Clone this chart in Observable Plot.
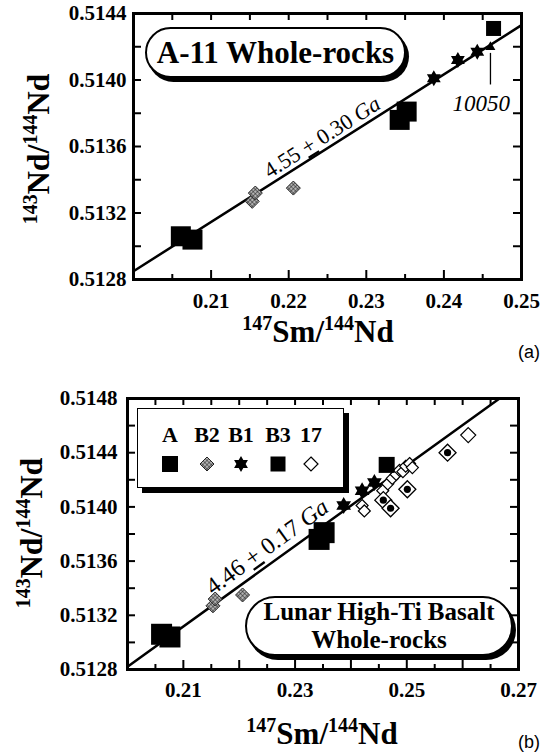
<!DOCTYPE html>
<html><head><meta charset="utf-8">
<script src="https://cdn.jsdelivr.net/npm/d3@7"></script>
<script src="https://cdn.jsdelivr.net/npm/@observablehq/plot@0.6"></script>
<style>
html,body{margin:0;padding:0;background:#fff;overflow:hidden;}
#root{position:relative;width:544px;height:753px;overflow:hidden;font-family:"Liberation Serif","Times New Roman",serif;color:#000;}
.panel{position:absolute;left:0;}
.ytitle{position:absolute;transform:translate(-50%,-50%) rotate(-90deg);white-space:nowrap;font-weight:bold;font-size:32px;line-height:32px;}
.xtitle{position:absolute;transform:translateX(-50%);white-space:nowrap;font-weight:bold;font-size:31px;line-height:31px;}
.sup{font-size:20px;position:relative;top:-12px;}
.tag{position:absolute;font-family:"Liberation Sans",Arial,sans-serif;font-size:18px;line-height:18px;transform:translate(-50%,-50%);}
.pill{position:absolute;box-sizing:border-box;border:2px solid #000;background:#fff;box-shadow:3px 4px 0 #000;font-weight:bold;text-align:center;white-space:nowrap;}
.legend{position:absolute;box-sizing:border-box;border:1.5px solid #000;background:#fff;box-shadow:5px 5px 0 #000;}
.legend .lab{position:absolute;font-weight:bold;font-size:22px;line-height:22px;transform:translateX(-50%);}
.legend svg{position:absolute;overflow:visible;}
</style>
</head><body>
<svg width="0" height="0" style="position:absolute">
 <defs>
  <pattern id="hatch" width="3" height="3" patternUnits="userSpaceOnUse" patternTransform="rotate(45)">
   <rect width="3" height="3" fill="#b4b4b4"/>
   <path d="M0 0H3M0 0V3" stroke="#1a1a1a" stroke-width="1"/>
  </pattern>
 </defs>
</svg>
<div id="root"></div>
<script>
// ---------- data ----------
// Panel (a): A-11 whole-rocks
const xDomainA = [0.20, 0.25];
const yDomainA = [0.5128, 0.5144];
const xLabelsA = [0.21, 0.22, 0.23, 0.24, 0.25];
const xMajorA = [0.21, 0.22, 0.23, 0.24];
const xMinorA = [0.205, 0.215, 0.225, 0.235, 0.245];
const yLabelsA = [0.5128, 0.5132, 0.5136, 0.5140, 0.5144];
const yTicksA = [0.5130, 0.5132, 0.5134, 0.5136, 0.5138, 0.5140, 0.5142];

// groups: [147Sm/144Nd, 143Nd/144Nd]
const groupA = [[0.2061, 0.51306], [0.2076, 0.51304], [0.2343, 0.51376], [0.2352, 0.51381]];
const groupB2 = [[0.2153, 0.51327], [0.2157, 0.51332], [0.2206, 0.51335]];
const groupB1 = [[0.2387, 0.51401], [0.2418, 0.51412], [0.2443, 0.51417]];
const groupB3 = [[0.2464, 0.51431]];
const sample10050 = [[0.2460, 0.51420]];
const pointer10050 = [{x: 0.2460, y1: 0.51416, y2: 0.51397}];
const label10050 = [{x: 0.2448, y: 0.51386, text: "10050"}];
const isochronA = [{x: 0.20, y: 0.51285}, {x: 0.25, y: 0.51433}];
const ageLabelA = [{x: 0.2248, y: 0.51362, text: "4.55 ± 0.30 Ga"}];

// Panel (b): lunar high-Ti basalt whole-rocks
const xDomainB = [0.20, 0.27];
const yDomainB = [0.5128, 0.5148];
const xLabelsB = [0.21, 0.23, 0.25, 0.27];
const xMajorB = [0.21, 0.22, 0.23, 0.24, 0.25, 0.26];
const xMinorB = [0.205, 0.215, 0.225, 0.235, 0.245, 0.255, 0.265];
const yLabelsB = [0.5128, 0.5132, 0.5136, 0.5140, 0.5144, 0.5148];
const yTicksB = [0.5130, 0.5132, 0.5134, 0.5136, 0.5138, 0.5140, 0.5142, 0.5144, 0.5146];
const group17open = [[0.2420, 0.51401], [0.2424, 0.51397], [0.2457, 0.51412], [0.2466, 0.51417],
  [0.2474, 0.51421], [0.2481, 0.51424], [0.2487, 0.51427], [0.2493, 0.51426], [0.2498, 0.51430],
  [0.2505, 0.51432], [0.2510, 0.51429]];
const group17big = [[0.2610, 0.51453]];
const group17dot = [[0.2458, 0.51405], [0.2471, 0.51399], [0.2501, 0.51413], [0.2573, 0.51440]];
const groupB1b = [[0.2387, 0.51401], [0.2420, 0.51412], [0.2442, 0.51418]];
const isochronB = [{x: 0.20, y: 0.51282}, {x: 0.2666, y: 0.5148}];
const ageLabelB = [{x: 0.2258, y: 0.51366, text: "4.46 ± 0.17 Ga"}];

const legendKeys = ["A", "B2", "B1", "B3", "17"];

// ---------- symbols ----------
const rad = s => Math.sqrt(s / Math.PI);
const symSquare = {draw(c, s) { const r = rad(s); c.moveTo(-r, -r); c.lineTo(r, -r); c.lineTo(r, r); c.lineTo(-r, r); c.closePath(); }};
const symDiamond = {draw(c, s) { const r = rad(s); c.moveTo(0, -r); c.lineTo(r, 0); c.lineTo(0, r); c.lineTo(-r, 0); c.closePath(); }};
const symStar6 = {draw(c, s) { const r = rad(s), ri = r / Math.sqrt(3);
  for (let k = 0; k < 12; k++) { const a = -Math.PI / 2 + k * Math.PI / 6, rr = k % 2 ? ri : r;
    const x = rr * Math.cos(a), y = rr * Math.sin(a); if (k) c.lineTo(x, y); else c.moveTo(x, y); }
  c.closePath(); }};
const symTri = {draw(c, s) { const r = rad(s); c.moveTo(0, -r); c.lineTo(r * 0.9, r * 0.6); c.lineTo(-r * 0.9, r * 0.6); c.closePath(); }};

const FONT = '"Liberation Serif","Times New Roman",serif';
const X = d => d[0], Y = d => d[1];

function frameTicks(innerW, innerH, xMajor, xMinor, xTop, yTicks) {
  return [
    Plot.tickX(xMajor, {x: d => d, insetTop: innerH - 9, strokeWidth: 2}),
    Plot.tickX(xMinor, {x: d => d, insetTop: innerH - 5, strokeWidth: 2}),
    Plot.tickX(xTop, {x: d => d, insetBottom: innerH - 7, strokeWidth: 2}),
    Plot.tickY(yTicks, {y: d => d, insetRight: innerW - 8, strokeWidth: 2}),
    Plot.tickY(yTicks, {y: d => d, insetLeft: innerW - 8, strokeWidth: 2})
  ];
}

function styleAge(svg, label) {
  svg.querySelectorAll("text").forEach(t => {
    if (t.textContent !== label) return;
    const parts = label.split(" "); // ["4.55","±","0.30","Ga"]
    t.textContent = "";
    const ns = "http://www.w3.org/2000/svg";
    const add = (txt, attrs) => { const s = document.createElementNS(ns, "tspan"); s.textContent = txt;
      for (const k in attrs) s.setAttribute(k, attrs[k]); t.appendChild(s); };
    add(parts[0] + " ", {});
    add("+", {"text-decoration": "underline"});
    add(" " + parts[2] + " ", {});
    add(parts[3], {"font-style": "italic"});
  });
}

// ---------- panel (a) ----------
const HA = 360, mTA = 13, mBA = 81, mLA = 133, mRA = 23;
const innerWA = 544 - mLA - mRA, innerHA = HA - mTA - mBA;
const panelA = Plot.plot({
  width: 544, height: HA,
  marginLeft: mLA, marginRight: mRA, marginTop: mTA, marginBottom: mBA,
  x: {domain: xDomainA}, y: {domain: yDomainA},
  style: {fontFamily: FONT, fontSize: "21px", fontWeight: "bold", background: "transparent", overflow: "visible"},
  marks: [
    Plot.line(isochronA, {x: "x", y: "y", stroke: "#000", strokeWidth: 2.5}),
    Plot.text(ageLabelA, {x: "x", y: "y", text: "text", rotate: -32.3, lineAnchor: "bottom", textAnchor: "middle", fontSize: 22, fontWeight: "normal", fontFamily: FONT}),
    Plot.dot(groupB2, {x: X, y: Y, symbol: symDiamond, r: 7, fill: "url(#hatch)", stroke: "#222", strokeWidth: 1}),
    Plot.dot(groupA, {x: X, y: Y, symbol: symSquare, r: 10, fill: "#000"}),
    Plot.dot(groupB1, {x: X, y: Y, symbol: symStar6, r: 8, fill: "#000"}),
    Plot.dot(groupB3, {x: X, y: Y, symbol: symSquare, r: 7.5, fill: "#000"}),
    Plot.dot(sample10050, {x: X, y: Y, symbol: symTri, r: 5.5, fill: "#000"}),
    Plot.ruleX(pointer10050, {x: "x", y1: "y1", y2: "y2", stroke: "#000", strokeWidth: 1.3}),
    Plot.text(label10050, {x: "x", y: "y", text: "text", fontSize: 23, fontStyle: "italic", fontWeight: "normal", fontFamily: FONT}),
    ...frameTicks(innerWA, innerHA, xMajorA, xMinorA, [0.205, 0.21, 0.215, 0.22, 0.225, 0.23, 0.235, 0.24, 0.245], yTicksA),
    Plot.frame({stroke: "#000", strokeWidth: 3}),
    Plot.axisX({ticks: xLabelsA, tickSize: 0, tickPadding: 14, tickFormat: d3.format(".2f"), label: null, fontSize: 21, fontWeight: "bold"}),
    Plot.axisY({ticks: yLabelsA, tickSize: 0, tickPadding: 7, tickFormat: d => d.toFixed(4), label: null, fontSize: 21, fontWeight: "bold"})
  ]
});
styleAge(panelA, ageLabelA[0].text);
panelA.classList.add("panel");
panelA.style.top = "0px";

// ---------- panel (b) ----------
const TB = 385, HB = 368, mTB = 13, mBB = 84, mLB = 127, mRB = 26;
const innerWB = 544 - mLB - mRB, innerHB = HB - mTB - mBB;
const panelB = Plot.plot({
  width: 544, height: HB,
  marginLeft: mLB, marginRight: mRB, marginTop: mTB, marginBottom: mBB,
  x: {domain: xDomainB}, y: {domain: yDomainB},
  style: {fontFamily: FONT, fontSize: "21px", fontWeight: "bold", background: "transparent", overflow: "visible"},
  marks: [
    Plot.line(isochronB, {x: "x", y: "y", stroke: "#000", strokeWidth: 2.5}),
    Plot.text(ageLabelB, {x: "x", y: "y", text: "text", rotate: -35.9, lineAnchor: "bottom", textAnchor: "middle", fontSize: 24, fontWeight: "normal", fontFamily: FONT}),
    Plot.dot(group17open, {x: X, y: Y, symbol: symDiamond, r: 6, fill: "#fff", stroke: "#000", strokeWidth: 1.2}),
    Plot.dot(group17dot, {x: X, y: Y, symbol: symDiamond, r: 8.5, fill: "#fff", stroke: "#000", strokeWidth: 1.3}),
    Plot.dot(group17dot, {x: X, y: Y, r: 3.6, fill: "#000"}),
    Plot.dot(group17big, {x: X, y: Y, symbol: symDiamond, r: 7.5, fill: "#fff", stroke: "#000", strokeWidth: 1.2}),
    Plot.dot(groupB2, {x: X, y: Y, symbol: symDiamond, r: 7, fill: "url(#hatch)", stroke: "#222", strokeWidth: 1}),
    Plot.dot(groupA, {x: X, y: Y, symbol: symSquare, r: 10.5, fill: "#000"}),
    Plot.dot(groupB1b, {x: X, y: Y, symbol: symStar6, r: 8.5, fill: "#000"}),
    Plot.dot(groupB3, {x: X, y: Y, symbol: symSquare, r: 8, fill: "#000"}),
    ...frameTicks(innerWB, innerHB, xMajorB, xMinorB, [...xMajorB, ...xMinorB], yTicksB),
    Plot.frame({stroke: "#000", strokeWidth: 3}),
    Plot.axisX({ticks: xLabelsB, tickSize: 0, tickPadding: 13, tickFormat: d3.format(".2f"), label: null, fontSize: 21, fontWeight: "bold"}),
    Plot.axisY({ticks: yLabelsB, tickSize: 0, tickPadding: 10, tickFormat: d => d.toFixed(4), label: null, fontSize: 21, fontWeight: "bold"})
  ]
});
styleAge(panelB, ageLabelB[0].text);
panelB.classList.add("panel");
panelB.style.top = TB + "px";

// ---------- page assembly ----------
const root = document.getElementById("root");
root.appendChild(panelA);
root.appendChild(panelB);

function addHTML(html) { const d = document.createElement("div"); d.innerHTML = html; while (d.firstChild) root.appendChild(d.firstChild); }
const ratioY = '<span class="sup">143</span>Nd/<span class="sup">144</span>Nd';
const ratioX = '<span class="sup">147</span>Sm/<span class="sup">144</span>Nd';

addHTML(`<div class="ytitle" style="left:40px;top:149px">${ratioY}</div>`);
addHTML(`<div class="xtitle" style="left:318px;top:316px">${ratioX}</div>`);
addHTML(`<div class="tag" style="left:529px;top:352px">(a)</div>`);
addHTML(`<div class="pill" style="left:145px;top:27px;width:261px;height:51px;border-radius:26px;font-size:31px;line-height:47px">A-11 Whole-rocks</div>`);

addHTML(`<div class="ytitle" style="left:33px;top:533px">${ratioY}</div>`);
addHTML(`<div class="xtitle" style="left:322px;top:718px">${ratioX}</div>`);
addHTML(`<div class="tag" style="left:529px;top:742px">(b)</div>`);
addHTML(`<div class="pill" style="left:245px;top:596px;width:268px;height:60px;border-radius:30px;font-size:25px;line-height:28px;padding-top:0px">Lunar High-Ti Basalt<br>Whole-rocks</div>`);

// legend
const legX = [32, 69, 103, 140, 173];
const legSym = [
  '<rect x="-8" y="-8" width="16" height="16" fill="#000"/>',
  '<path d="M0,-7L7,0L0,7L-7,0Z" fill="url(#hatch)" stroke="#222" stroke-width="1"/>',
  (() => { let p = ""; const r = 8, ri = r / Math.sqrt(3); for (let k = 0; k < 12; k++) { const a = -Math.PI / 2 + k * Math.PI / 6, rr = k % 2 ? ri : r; p += (k ? "L" : "M") + (rr * Math.cos(a)).toFixed(2) + "," + (rr * Math.sin(a)).toFixed(2); } return `<path d="${p}Z" fill="#000"/>`; })(),
  '<rect x="-7.5" y="-7.5" width="15" height="15" fill="#000"/>',
  '<path d="M0,-7L7,0L0,7L-7,0Z" fill="#fff" stroke="#000" stroke-width="1.2"/>'
];
let leg = `<div class="legend" style="left:137px;top:408px;width:207px;height:80px">`;
legendKeys.forEach((k, i) => {
  leg += `<div class="lab" style="left:${legX[i]}px;top:15px">${k}</div>`;
  leg += `<svg width="1" height="1" style="left:${legX[i]}px;top:55px">${legSym[i]}</svg>`;
});
leg += `</div>`;
addHTML(leg);
</script>
</body></html>
